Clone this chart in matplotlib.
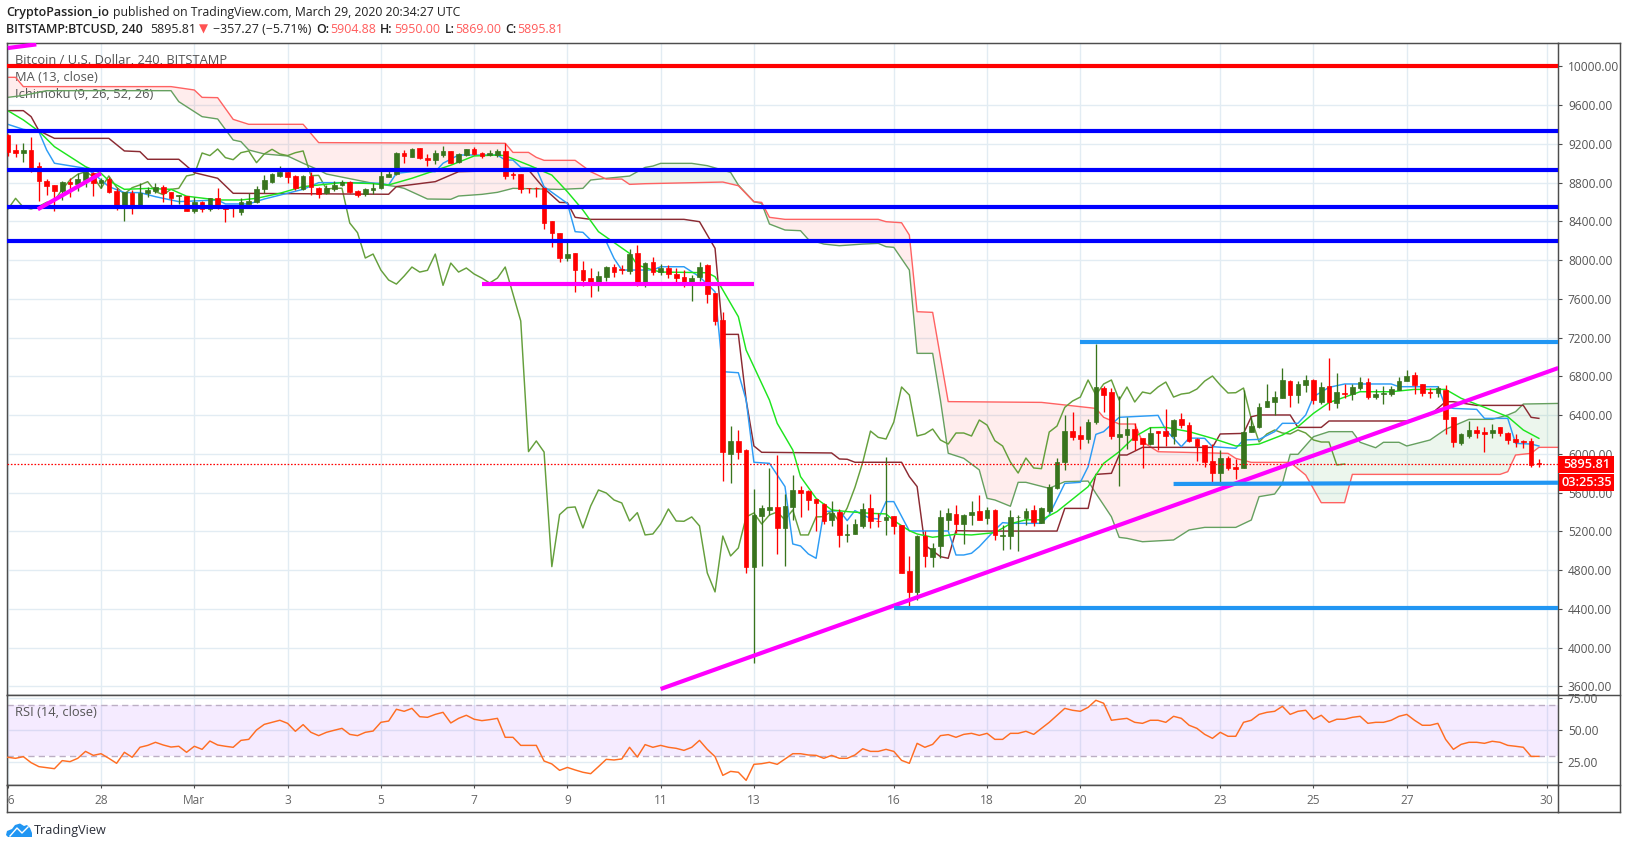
import matplotlib
matplotlib.use("Agg")
import matplotlib.pyplot as plt
import numpy as np
from matplotlib.lines import Line2D
from matplotlib.patches import Polygon, Rectangle

W, H = 1627, 849

# ---- candles, one per 4h, from Feb 26 00:00 ----
opens = [
    9292, 9137, 9109, 9137, 8972, 8817, 8772, 8717, 8807, 8786,
    8827, 8896, 8793, 8834, 8714, 8566, 8690, 8552, 8697, 8714,
    8752, 8704, 8662, 8662, 8511, 8604, 8525, 8638, 8552, 8562,
    8501, 8583, 8600, 8738, 8807, 8872, 8913, 8869, 8735, 8869,
    8741, 8690, 8738, 8779, 8803, 8710, 8683, 8728, 8741, 8862,
    8889, 9106, 9068, 9154, 9058, 9034, 9082, 9127, 9013, 9085,
    9147, 9109, 9089, 9089, 9127, 8889, 8889, 8748, 8748, 8748,
    8404, 8280, 8022, 8073, 7898, 7815, 7743, 7826, 7929, 7905,
    7888, 8073, 7740, 7981, 7877, 7919, 7857, 7826, 7774, 7826,
    7950, 7661, 7382, 6000, 6134, 6041, 4837, 5360, 5422, 5453,
    5236, 5453, 5628, 5618, 5539, 5484, 5319, 5401, 5167, 5174,
    5257, 5442, 5312, 5319, 5360, 5267, 4792, 4576, 5153, 4937,
    5050, 5319, 5381, 5277, 5370, 5411, 5339, 5422, 5157, 5153,
    5346, 5339, 5422, 5290, 5414, 5645, 5913, 6236, 6195, 6154,
    6326, 6680, 6639, 6175, 6195, 6257, 6164, 6102, 6236, 6236,
    6185, 6360, 6298, 6154, 6092, 5927, 5803, 5958, 5865, 5858,
    6226, 6278, 6484, 6536, 6577, 6752, 6608, 6711, 6763, 6536,
    6701, 6525, 6629, 6618, 6680, 6742, 6587, 6615, 6618, 6660,
    6752, 6814, 6722, 6639, 6629, 6660, 6381, 6113, 6185, 6247,
    6226, 6216, 6278, 6216, 6154, 6130, 6133, 5904.88,
]
highs = [
    9300, 9199, 9206, 9275, 9017, 8834, 8772, 8817, 8845, 8896,
    8958, 8913, 8845, 8862, 8741, 8707, 8724, 8800, 8752, 8800,
    8776, 8704, 8673, 8662, 8655, 8611, 8638, 8741, 8569, 8569,
    8638, 8690, 8765, 8879, 8903, 8972, 8930, 8879, 8879, 8913,
    8759, 8776, 8821, 8827, 8817, 8724, 8745, 8800, 8948, 8948,
    9116, 9137, 9154, 9154, 9096, 9137, 9178, 9130, 9103, 9147,
    9171, 9120, 9137, 9144, 9206, 8913, 8889, 8748, 8750, 8748,
    8404, 8280, 8187, 8073, 7991, 7915, 7888, 7939, 7960, 7950,
    8115, 8156, 7981, 8032, 7960, 7950, 7919, 7898, 7846, 7981,
    7960, 7661, 7465, 6289, 6247, 6051, 5639, 5473, 5855, 5989,
    5587, 5783, 5669, 5628, 5539, 5491, 5515, 5432, 5277, 5329,
    5494, 5587, 5391, 5969, 5360, 5267, 4947, 5164, 5205, 5081,
    5422, 5442, 5473, 5381, 5515, 5577, 5453, 5432, 5267, 5422,
    5370, 5442, 5473, 5449, 5690, 5954, 6402, 6433, 6292, 6357,
    7134, 6701, 6680, 6598, 6381, 6319, 6164, 6278, 6236, 6464,
    6360, 6422, 6329, 6161, 6092, 6102, 6040, 5979, 5948, 6660,
    6384, 6525, 6722, 6649, 6887, 6759, 6752, 6814, 6773, 6742,
    6990, 6835, 6722, 6722, 6794, 6783, 6670, 6701, 6701, 6794,
    6866, 6845, 6722, 6680, 6701, 6711, 6381, 6216, 6340, 6288,
    6278, 6309, 6278, 6226, 6206, 6144, 6164, 5950,
]
lows = [
    9075, 9068, 9017, 8913, 8614, 8673, 8511, 8621, 8655, 8717,
    8759, 8662, 8741, 8690, 8518, 8408, 8477, 8545, 8655, 8697,
    8604, 8569, 8580, 8511, 8490, 8501, 8511, 8525, 8394, 8449,
    8466, 8580, 8593, 8697, 8793, 8862, 8793, 8724, 8724, 8673,
    8645, 8680, 8717, 8765, 8697, 8655, 8662, 8683, 8731, 8855,
    8879, 9006, 9061, 9048, 8972, 8993, 9068, 8999, 8999, 9075,
    9085, 9058, 9075, 9068, 8838, 8834, 8689, 8689, 8648, 8321,
    8132, 7981, 7991, 7671, 7736, 7619, 7681, 7781, 7826, 7857,
    7857, 7733, 7723, 7846, 7846, 7815, 7743, 7723, 7578, 7784,
    7558, 7330, 5721, 5700, 5948, 4772, 3846, 4844, 5370, 4968,
    4844, 5319, 5350, 5422, 5205, 5277, 5257, 5040, 5092, 5174,
    5236, 5236, 5246, 5164, 5174, 4772, 4431, 4493, 4834, 4834,
    4926, 5215, 5184, 5071, 5267, 5319, 5277, 5112, 5009, 5019,
    4999, 5267, 5257, 5284, 5394, 5634, 5837, 6144, 6051, 6116,
    6309, 6433, 6154, 5672, 6051, 6040, 5855, 6092, 6040, 6082,
    6102, 6267, 6123, 5927, 5865, 5690, 5679, 5834, 5741, 5851,
    6226, 6271, 6481, 6402, 6577, 6484, 6525, 6639, 6515, 6515,
    6453, 6474, 6577, 6556, 6660, 6567, 6567, 6515, 6598, 6660,
    6752, 6618, 6598, 6577, 6584, 6206, 6071, 6092, 6164, 6164,
    6020, 6164, 6185, 6102, 6071, 6061, 5865, 5869,
]
closes = [
    9120, 9109, 9134, 8948, 8821, 8765, 8717, 8807, 8786, 8834,
    8910, 8800, 8824, 8707, 8562, 8707, 8545, 8690, 8724, 8759,
    8697, 8645, 8673, 8511, 8600, 8525, 8638, 8545, 8528, 8555,
    8597, 8611, 8731, 8827, 8886, 8913, 8862, 8741, 8869, 8752,
    8683, 8748, 8776, 8810, 8707, 8676, 8731, 8741, 8869, 8886,
    9106, 9079, 9147, 9058, 9037, 9109, 9127, 9006, 9096, 9144,
    9096, 9079, 9109, 9127, 8872, 8875, 8734, 8742, 8742, 8383,
    8283, 8022, 8063, 7898, 7795, 7753, 7836, 7929, 7877, 7895,
    8063, 7740, 7970, 7877, 7919, 7857, 7815, 7764, 7815, 7929,
    7650, 7372, 6024, 6134, 6020, 4837, 5374, 5446, 5453, 5236,
    5463, 5628, 5597, 5525, 5494, 5308, 5394, 5164, 5174, 5277,
    5432, 5308, 5305, 5350, 5257, 4772, 4576, 5153, 4947, 5030,
    5350, 5391, 5277, 5370, 5401, 5319, 5422, 5164, 5164, 5350,
    5353, 5411, 5298, 5442, 5655, 5913, 6236, 6171, 6154, 6329,
    6691, 6608, 6185, 6206, 6257, 6144, 6102, 6216, 6216, 6185,
    6350, 6298, 6137, 6082, 5917, 5803, 5958, 5855, 5848, 6226,
    6288, 6481, 6546, 6587, 6763, 6608, 6722, 6763, 6556, 6691,
    6536, 6639, 6622, 6691, 6742, 6587, 6618, 6629, 6670, 6752,
    6804, 6711, 6629, 6632, 6680, 6360, 6123, 6206, 6247, 6216,
    6206, 6247, 6216, 6144, 6123, 6123, 5886, 5895.81,
]

# ---- indicators, read at the bars where the line bends ----
ma_bars = [
    0, 2, 4, 6, 10, 12, 13, 15, 18, 21,
    23, 27, 30, 32, 35, 38, 43, 47, 49, 52,
    57, 60, 63, 64, 67, 70, 72, 74, 76, 80,
    81, 83, 84, 87, 90, 91, 92, 94, 95, 98,
    99, 101, 102, 104, 106, 108, 111, 113, 114, 116,
    117, 119, 122, 124, 127, 129, 131, 133, 135, 139,
    141, 143, 145, 147, 149, 152, 155, 158, 161, 164,
    166, 168, 170, 174, 178, 181, 185, 187, 190, 193,
    195, 197,
]
ma_vals = [
    9543, 9447, 9330, 9171, 8965, 8896, 8820, 8731, 8740, 8731,
    8660, 8621, 8621, 8638, 8690, 8759, 8800, 8790, 8776, 8845,
    8980, 9075, 9085, 9078, 8982, 8878, 8706, 8517, 8294, 8070,
    7950, 7898, 7877, 7874, 7870, 7829, 7692, 7416, 7072, 6556,
    6316, 6041, 5766, 5542, 5422, 5405, 5387, 5381, 5312, 5208,
    5174, 5140, 5171, 5164, 5188, 5280, 5320, 5320, 5405, 5662,
    5903, 6023, 6178, 6271, 6274, 6230, 6161, 6082, 6102, 6195,
    6281, 6419, 6530, 6642, 6642, 6666, 6666, 6574, 6481, 6384,
    6247, 6161,
]
conversion_bars = [
    0, 2, 4, 5, 6, 10, 11, 13, 15, 17,
    19, 22, 27, 28, 31, 33, 38, 40, 45, 48,
    49, 50, 52, 55, 56, 58, 63, 64, 65, 66,
    68, 69, 72, 73, 74, 75, 77, 78, 79, 83,
    84, 87, 89, 91, 92, 94, 95, 96, 98, 100,
    101, 102, 103, 104, 105, 107, 108, 109, 110, 111,
    112, 113, 114, 116, 121, 122, 123, 124, 125, 127,
    128, 129, 131, 133, 134, 136, 138, 139, 140, 141,
    143, 148, 149, 151, 152, 154, 155, 158, 159, 161,
    163, 164, 166, 167, 168, 170, 172, 178, 179, 184,
    185, 186, 189, 190, 193, 194, 196, 197,
]
conversion_vals = [
    9402, 9350, 9326, 9137, 9000, 8948, 8896, 8759, 8697, 8697,
    8655, 8604, 8621, 8580, 8580, 8631, 8731, 8800, 8800, 8793,
    8776, 8896, 8913, 8913, 9000, 9085, 9085, 9033, 9033, 8957,
    8947, 8758, 8586, 8294, 8287, 8208, 8190, 8018, 7898, 7898,
    7932, 7932, 7829, 7674, 6849, 6838, 6556, 5914, 5903, 5663,
    5071, 5050, 4968, 4923, 5405, 5415, 5312, 5415, 5370, 5336,
    5329, 5508, 5508, 5205, 5205, 4957, 4957, 4975, 5043, 5215,
    5291, 5284, 5284, 5284, 5370, 5696, 5707, 5868, 6202, 6230,
    6378, 6398, 6247, 6075, 6164, 6161, 6075, 6058, 6144, 6150,
    6230, 6316, 6316, 6402, 6591, 6687, 6722, 6722, 6694, 6694,
    6488, 6470, 6460, 6367, 6367, 6109, 6102, 6082,
]
base_bars = [
    0, 2, 3, 4, 6, 13, 15, 17, 18, 22,
    24, 27, 29, 49, 50, 54, 55, 58, 67, 69,
    71, 72, 73, 75, 87, 89, 91, 92, 94, 95,
    96, 97, 106, 107, 108, 109, 115, 116, 117, 118,
    120, 121, 122, 125, 135, 136, 139, 140, 142, 143,
    144, 146, 155, 156, 159, 160, 161, 165, 166, 169,
    170, 180, 183, 185, 186, 189, 195, 196, 197,
]
base_vals = [
    9543, 9543, 9481, 9336, 9257, 9257, 9127, 9120, 9041, 9041,
    8903, 8845, 8690, 8680, 8759, 8800, 8810, 8913, 8931, 8741,
    8596, 8593, 8442, 8421, 8421, 8397, 8122, 7234, 7234, 6557,
    6082, 6017, 6010, 5948, 5945, 5914, 5914, 5766, 5663, 5060,
    4940, 4923, 5208, 5204, 5204, 5438, 5438, 5789, 5800, 5989,
    5989, 6068, 6068, 6206, 6212, 6384, 6402, 6402, 6274, 6274,
    6340, 6340, 6402, 6539, 6539, 6501, 6501, 6378, 6367,
]
lead_a_bars = [
    0, 2, 5, 21, 22, 25, 27, 29, 30, 31,
    33, 36, 38, 40, 41, 47, 50, 51, 54, 57,
    58, 61, 63, 65, 71, 74, 75, 77, 80, 82,
    83, 84, 88, 90, 93, 94, 96, 97, 98, 100,
    102, 103, 105, 107, 110, 112, 113, 114, 116, 117,
    119, 120, 121, 123, 125, 126, 127, 129, 130, 131,
    134, 136, 139, 140, 141, 142, 143, 144, 146, 150,
    152, 154, 158, 160, 161, 163, 164, 165, 166, 168,
    170, 173, 174, 176, 177, 179, 180, 183, 185, 188,
    191, 193, 194, 195, 200,
]
lead_a_vals = [
    9680, 9700, 9749, 9749, 9636, 9481, 9457, 9240, 9223, 9137,
    9096, 9075, 9000, 8931, 8889, 8793, 8759, 8741, 8631, 8628,
    8662, 8679, 8700, 8741, 8730, 8741, 8827, 8844, 8868, 8957,
    8971, 8999, 8999, 8975, 8906, 8775, 8603, 8586, 8373, 8311,
    8304, 8214, 8166, 8149, 8166, 8173, 8139, 8132, 7898, 7038,
    7038, 6556, 6007, 5955, 5835, 5542, 5525, 5460, 5707, 5707,
    5645, 5714, 5720, 5593, 5473, 5352, 5139, 5129, 5094, 5112,
    5215, 5242, 5242, 5318, 5559, 5586, 5696, 5996, 5996, 6178,
    6230, 6230, 6120, 6064, 6120, 6120, 6082, 6144, 6254, 6357,
    6357, 6402, 6436, 6515, 6522,
]
lead_b_bars = [
    0, 1, 2, 21, 24, 25, 27, 29, 31, 38,
    40, 64, 65, 67, 68, 69, 73, 75, 77, 79,
    80, 82, 92, 94, 96, 97, 98, 100, 112, 113,
    115, 116, 117, 119, 121, 133, 140, 141, 143, 145,
    146, 148, 157, 158, 160, 165, 167, 169, 172, 173,
    192, 193, 194, 196, 197, 200,
]
lead_b_vals = [
    9887, 9887, 9791, 9791, 9756, 9680, 9677, 9453, 9402, 9402,
    9213, 9206, 9112, 9112, 9061, 9030, 9030, 8913, 8837, 8837,
    8782, 8789, 8806, 8768, 8603, 8596, 8442, 8421, 8421, 8397,
    8386, 8259, 7468, 7461, 6540, 6532, 6470, 6378, 6309, 6309,
    6126, 6023, 6006, 5954, 5913, 5913, 5782, 5497, 5497, 5789,
    5789, 5817, 5989, 6006, 6068, 6068,
]
rsi_vals = [
    28.9, 28.1, 29.4, 24.7, 21.6, 20.8, 20.0, 26.3, 25.5, 28.1,
    33.5, 30.4, 31.7, 28.1, 24.2, 32.8, 28.9, 36.7, 38.2, 40.6,
    38.5, 36.9, 37.5, 32.8, 37.5, 35.1, 41.6, 38.5, 37.5, 36.7,
    42.1, 42.9, 50.2, 54.6, 56.2, 57.8, 55.4, 49.2, 54.4, 48.4,
    45.8, 48.4, 50.0, 51.5, 46.8, 45.8, 48.4, 49.4, 56.2, 57.2,
    66.4, 64.8, 67.1, 60.6, 60.1, 62.4, 64.0, 55.7, 59.3, 61.7,
    58.6, 57.5, 58.3, 59.3, 44.5, 44.5, 38.2, 38.2, 38.2, 26.0,
    23.7, 18.7, 21.0, 19.0, 17.2, 16.1, 21.6, 27.3, 26.8, 27.6,
    36.7, 29.1, 38.8, 36.7, 38.2, 36.7, 35.9, 34.3, 36.7, 42.1,
    35.1, 29.4, 14.8, 17.9, 17.2, 10.9, 23.4, 23.9, 25.0, 23.4,
    27.6, 31.7, 31.7, 30.7, 30.4, 28.1, 30.4, 28.1, 28.1, 30.7,
    35.6, 33.5, 33.5, 35.1, 33.5, 26.5, 24.2, 39.8, 36.7, 39.0,
    45.8, 46.6, 44.5, 46.8, 47.6, 46.0, 47.6, 42.9, 42.9, 47.6,
    47.6, 49.2, 46.8, 51.5, 56.2, 61.7, 67.1, 65.6, 64.8, 67.9,
    73.4, 71.1, 57.8, 58.6, 59.3, 56.2, 55.4, 57.8, 57.8, 56.2,
    60.9, 59.3, 53.9, 51.5, 46.8, 43.7, 48.4, 45.3, 45.3, 56.2,
    57.8, 62.4, 64.0, 64.8, 68.7, 62.4, 64.8, 65.6, 58.6, 61.7,
    56.2, 58.6, 58.6, 60.1, 60.9, 55.4, 56.2, 56.2, 57.8, 60.9,
    62.4, 57.8, 53.9, 53.9, 55.4, 42.9, 35.1, 39.0, 40.6, 40.6,
    39.8, 41.4, 40.6, 38.2, 37.5, 36.7, 29.6, 29.6,
]

# ---- hand-drawn levels and trendlines ----
red_level = 10000
blue_levels = [9330, 8930, 8552, 8198]
magenta_trend_bars = [84, 199.5]
magenta_trend_vals = [3574, 6887]
magenta_top_bars = [0, 3.67]
magenta_top_vals = [10189, 10227]
magenta_left_bars = [3.86, 12]
magenta_left_vals = [8525, 8896]
magenta_flat_bars = [61, 96]
magenta_flat_vals = [7751, 7751]
sky_top_bars = [138, 199.5]
sky_top_vals = [7158, 7158]
sky_mid_bars = [150, 199.5]
sky_mid_vals = [5690, 5703]
sky_low_bars = [114, 199.5]
sky_low_vals = [4407, 4407]
last_price = 5895.81

# ---- axis ticks ----
tick_bars = [0, 12, 24, 36, 48, 60, 72, 84, 96, 114, 126, 138, 156, 168, 180, 198]
tick_labels = ["26", "28", "Mar", "3", "5", "7", "9", "11", "13", "16", "18", "20", "23", "25", "27", "30"]
price_ticks = [3600, 4000, 4400, 4800, 5200, 5600, 6000, 6400, 6800, 7200, 7600, 8000, 8400, 8800, 9200, 9600, 10000]
rsi_ticks = [25, 50, 75]

GRID = "#e2ecf3"
FRAME = "#4d4d4d"
LABEL = "#555555"
RED = "#ff0000"
GREEN = "#38741d"

plt.rcParams["font.family"] = ["Open Sans", "DejaVu Sans"]


def box(left, top, right, bottom):
    return [left / W, 1 - bottom / H, (right - left) / W, (bottom - top) / H]


def px(x, y):
    return x / W, 1 - y / H


def label(x, y, text, color="#222222", size=8.9, weight="normal", **kw):
    fx, fy = px(x, y)
    fig.text(fx, fy, text, color=color, fontsize=size, fontweight=weight, va="center", **kw)


def frame_line(x0, y0, x1, y1):
    (a, b), (c, d) = px(x0, y0), px(x1, y1)
    fig.add_artist(Line2D([a, c], [b, d], color=FRAME, lw=1.05, zorder=5))


fig = plt.figure(figsize=(W / 100, H / 100), dpi=100, facecolor="white")
ax = fig.add_axes(box(6.5, 43.3, 1558.3, 695.3))
ax_rsi = fig.add_axes(box(6.5, 695.3, 1558.3, 785.3), sharex=ax)
ax_time = fig.add_axes(box(6.5, 785.3, 1558.3, 812.3), sharex=ax)

bars = np.arange(len(closes))
opens_a, closes_a = np.array(opens), np.array(closes)
colors = np.where(closes_a >= opens_a, GREEN, RED)

# cloud first, then the indicator lines, candles on top of those
grid_x = np.arange(-1, 200.01, 0.1)
a_grid = np.interp(grid_x, lead_a_bars, lead_a_vals)
b_grid = np.interp(grid_x, lead_b_bars, lead_b_vals)
ax.fill_between(grid_x, a_grid, b_grid, where=b_grid >= a_grid, color="#ff5252", alpha=0.10, lw=0, interpolate=True, zorder=1)
ax.fill_between(grid_x, a_grid, b_grid, where=a_grid > b_grid, color="#4caf50", alpha=0.10, lw=0, interpolate=True, zorder=1)
ax.plot(lead_a_bars, lead_a_vals, color="#66a060", lw=1.0, zorder=2)
ax.plot(lead_b_bars, lead_b_vals, color="#ff6262", lw=1.0, zorder=2)
# lagging span is the close itself, plotted 25 bars back
ax.plot(bars[:-25], closes[25:], color="#659f3c", lw=1.05, zorder=2)
ax.plot(base_bars, base_vals, color="#8b2a32", lw=1.05, zorder=2.2)
ax.plot(conversion_bars, conversion_vals, color="#2d9cf5", lw=1.05, zorder=2.3)
ax.plot(ma_bars, ma_vals, color="#1ee51e", lw=1.05, zorder=2.4)

ax.vlines(bars, lows, highs, colors=colors, lw=0.95, zorder=3)
ax.bar(bars, closes_a - opens_a, bottom=opens_a, width=0.6, color=colors, edgecolor=colors, lw=0.5, zorder=3.1)

ax.axhline(last_price, color=RED, lw=0.9, dashes=(1.3, 1.4), zorder=3.5)
ax.axhline(red_level, color=RED, lw=3.0, zorder=4)
for level in blue_levels:
    ax.axhline(level, color="#0000ff", lw=3.0, zorder=4)
for xs, ys in [(magenta_trend_bars, magenta_trend_vals), (magenta_top_bars, magenta_top_vals),
               (magenta_left_bars, magenta_left_vals), (magenta_flat_bars, magenta_flat_vals)]:
    ax.plot(xs, ys, color="#ff00ff", lw=3.0, solid_capstyle="butt", zorder=4)
for xs, ys in [(sky_top_bars, sky_top_vals), (sky_mid_bars, sky_mid_vals), (sky_low_bars, sky_low_vals)]:
    ax.plot(xs, ys, color="#2196f3", lw=3.0, solid_capstyle="butt", zorder=4.1)

ax.set_xlim(-0.167, 199.5)
ax.set_ylim(3509, 10238)

# rsi pane
ax_rsi.axhspan(30, 70, color="#a040ff", alpha=0.10, lw=0, zorder=1)
ax_rsi.axhline(70, color="#bcaec4", lw=1.0, dashes=(4.5, 3), zorder=2)
ax_rsi.axhline(30, color="#bcaec4", lw=1.0, dashes=(4.5, 3), zorder=2)
ax_rsi.plot(bars, rsi_vals, color="#ff6d22", lw=1.05, zorder=3)
ax_rsi.set_ylim(7.03, 77.3)

for a in (ax, ax_rsi):
    a.set_xticks(tick_bars)
    a.grid(True, color=GRID, lw=1.0, zorder=0)
    a.set_axisbelow(True)
    a.yaxis.tick_right()
    a.tick_params(axis="x", length=0, labelbottom=False)
    a.tick_params(axis="y", length=3, width=0.8, color=FRAME, pad=3.9, labelsize=8.6, labelcolor=LABEL)
ax.set_yticks(price_ticks)
ax.set_yticklabels([f"{p:.2f}" for p in price_ticks])
ax_rsi.set_yticks(rsi_ticks)
ax_rsi.set_yticklabels([f"{v:.2f}" for v in rsi_ticks])

ax_time.set_ylim(0, 1)
ax_time.set_yticks([])
ax_time.set_xticks(tick_bars)
ax_time.tick_params(axis="x", direction="in", top=True, bottom=False, labelbottom=False, length=2.3, width=0.8, color=FRAME)
for pos, text in zip(tick_bars, tick_labels):
    ax_time.text(pos, 0.45, text, ha="center", va="center", fontsize=8.6, color="#666666", clip_on=True)

for a in (ax, ax_rsi, ax_time):
    for spine in a.spines.values():
        spine.set_color(FRAME)
        spine.set_linewidth(1.05)

# legends inside the panes
for y, text in [(60.7, "Bitcoin / U.S. Dollar, 240, BITSTAMP"), (77.7, "MA (13, close)"), (94.7, "Ichimoku (9, 26, 52, 26)")]:
    fx, fy = px(15.4, y)
    ax.text(fx, fy, text, transform=fig.transFigure, fontsize=9.3, color="#555555", va="center", zorder=1.5)
fx, fy = px(15.4, 712.7)
ax_rsi.text(fx, fy, "RSI (14, close)", transform=fig.transFigure, fontsize=9.3, color="#555555", va="center", zorder=4)

# outer frame around the price scale
frame_line(1558.3, 43.3, 1620, 43.3)
frame_line(1558.3, 695.3, 1620, 695.3)
frame_line(1558.3, 785.3, 1620, 785.3)
frame_line(1558.3, 812.3, 1620, 812.3)
frame_line(1620, 43.3, 1620, 812.3)

# price tags on the scale
for top, bottom, left, text in [(456, 472.7, 1558.3, "5895.81"), (474, 490.7, 1559, "03:25:35")]:
    fig.add_artist(Rectangle(px(left, bottom), (1614 - left) / W, (bottom - top) / H, transform=fig.transFigure,
                             facecolor=RED, edgecolor="none", zorder=6))
    fx, fy = px(1586.5, (top + bottom) / 2)
    fig.text(fx, fy, text, color="white", fontsize=9.2, fontweight="semibold", ha="center", va="center", zorder=7)

# header rows
label(6.4, 12.7, "CryptoPassion_io", size=9, weight="semibold")
label(112.5, 12.7, "published on TradingView.com, March 29, 2020 20:34:27 UTC", size=8.8)
label(6.4, 29.3, "BITSTAMP:BTCUSD, 240", size=8.9, weight="semibold")
label(150, 29.3, "5895.81")
label(199, 29.3, "▼", color="#ff5252", size=8.5)
label(213, 29.3, "−357.27 (−5.71%)")
for x, text in [(316, "O:"), (380, "H:"), (444.6, "L:"), (505, "C:")]:
    label(x, 29.3, text, weight="semibold")
for x, text in [(330, "5904.88"), (394, "5950.00"), (455, "5869.00"), (517, "5895.81")]:
    label(x, 29.3, text, color="#ff5b5b")

# logo
logo = [(6, 835), (7, 831), (12, 829), (15, 825), (20, 823.5), (24, 826), (27, 825), (30, 828), (32, 833), (32, 837), (8, 837)]
fig.add_artist(Polygon([px(*p) for p in logo], transform=fig.transFigure, facecolor="#2196f3", edgecolor="none"))
zig = [px(*p) for p in [(10, 836), (17, 828), (22, 833), (28, 827)]]
fig.add_artist(Line2D([p[0] for p in zig], [p[1] for p in zig], color="white", lw=1.0))
label(34.3, 830.7, "TradingView", color="#2a2e39", size=9.1)

fig.savefig("out.png", dpi=100, facecolor="white")
